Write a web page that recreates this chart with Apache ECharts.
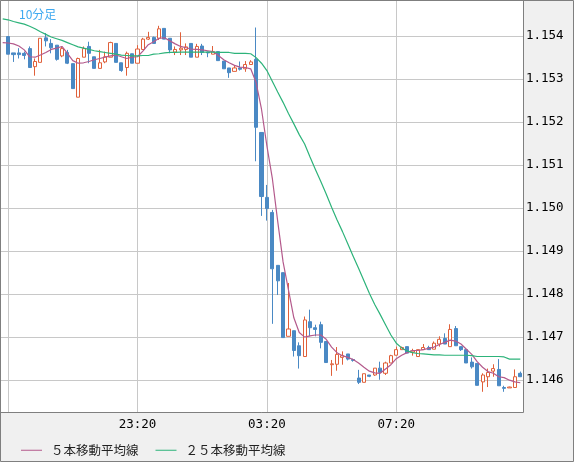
<!DOCTYPE html>
<html><head><meta charset="utf-8">
<script src="https://cdn.jsdelivr.net/npm/echarts@6/dist/echarts.min.js"></script>
<style>html,body{margin:0;padding:0;background:#f0f0f0;} #c{width:574px;height:462px;}</style>
</head><body><div id="c"></div>
<script>
const categories = [
"19:10","19:20","19:30","19:40","19:50",
"20:00","20:10","20:20","20:30","20:40","20:50",
"21:00","21:10","21:20","21:30","21:40","21:50",
"22:00","22:10","22:20","22:30","22:40","22:50",
"23:00","23:10","23:20","23:30","23:40","23:50",
"00:00","00:10","00:20","00:30","00:40","00:50",
"01:00","01:10","01:20","01:30","01:40","01:50",
"02:00","02:10","02:20","02:30","02:40","02:50",
"03:00","03:10","03:20","03:30","03:40","03:50",
"04:00","04:10","04:20","04:30","04:40","04:50",
"05:00","05:10","05:20","05:30","05:40","05:50",
"06:00","06:10","06:20","06:30","06:40","06:50",
"07:00","07:10","07:20","07:30","07:40","07:50",
"08:00","08:10","08:20","08:30","08:40","08:50",
"09:00","09:10","09:20","09:30","09:40","09:50",
"10:00","10:10","10:20","10:30","10:40","10:50",
"11:00","11:10"];

const open = [null,1.15399,1.15361,1.15361,1.15360,1.15371,1.15329,1.15339,1.15396,1.15383,1.15379,
1.15354,1.15362,1.15336,1.15258,1.15351,1.15376,1.15352,1.15325,1.15340,1.15351,
1.15383,1.15338,1.15327,1.15359,1.15337,1.15369,1.15393,1.15397,1.15395,1.15418,
1.15395,1.15363,1.15368,1.15369,1.15383,1.15351,1.15377,1.15363,1.15358,1.15364,
1.15342,1.15326,1.15318,1.15326,1.15324,1.15334,1.15346,1.15176,1.15025,1.14990,
1.14867,1.14850,1.14702,1.14715,1.14680,1.14655,1.14736,1.14722,1.14729,1.14690,
1.14636,1.14637,1.14653,1.14661,1.14648,1.14605,1.14595,1.14612,1.14612,1.14628,
1.14616,1.14640,1.14658,1.14671,1.14678,1.14665,1.14655,1.14671,1.14676,1.14672,
1.14684,1.14697,1.14678,1.14720,1.14678,1.14671,1.14642,1.14639,1.14596,1.14608,
1.14621,1.14625,1.14583,1.14582,1.14583,1.14616];

const close = [null,1.15358,1.15357,1.15357,1.15355,1.15327,1.15341,1.15395,1.15389,1.15373,1.15346,
1.15371,1.15337,1.15278,1.15348,1.15371,1.15360,1.15325,1.15338,1.15352,1.15385,
1.15339,1.15320,1.15360,1.15337,1.15370,1.15393,1.15397,1.15383,1.15417,1.15393,
1.15368,1.15369,1.15372,1.15375,1.15351,1.15376,1.15362,1.15361,1.15364,1.15343,
1.15324,1.15315,1.15326,1.15323,1.15334,1.15340,1.15188,1.15027,1.14999,1.14859,
1.14831,1.14699,1.14719,1.14669,1.14657,1.14740,1.14722,1.14718,1.14688,1.14641,
1.14638,1.14660,1.14657,1.14649,1.14646,1.14595,1.14615,1.14609,1.14628,1.14618,
1.14640,1.14657,1.14671,1.14676,1.14663,1.14668,1.14671,1.14676,1.14671,1.14686,
1.14695,1.14684,1.14718,1.14680,1.14671,1.14640,1.14631,1.14588,1.14612,1.14618,
1.14627,1.14587,1.14581,1.14584,1.14608,1.14608];

const low = [null,1.15358,1.15340,1.15348,1.15346,1.15327,1.15308,1.15339,1.15376,1.15360,1.15343,
1.15351,1.15335,1.15278,1.15258,1.15351,1.15337,1.15325,1.15325,1.15337,1.15351,
1.15339,1.15317,1.15308,1.15337,1.15337,1.15369,1.15391,1.15383,1.15391,1.15393,
1.15360,1.15356,1.15356,1.15356,1.15351,1.15351,1.15356,1.15351,1.15358,1.15343,
1.15324,1.15303,1.15318,1.15320,1.15317,1.15334,1.15109,1.14982,1.14971,1.14731,
1.14798,1.14699,1.14702,1.14655,1.14627,1.14655,1.14702,1.14702,1.14674,1.14641,
1.14610,1.14622,1.14636,1.14646,1.14643,1.14591,1.14595,1.14607,1.14610,1.14601,
1.14612,1.14640,1.14658,1.14671,1.14663,1.14657,1.14655,1.14671,1.14671,1.14672,
1.14678,1.14684,1.14678,1.14680,1.14668,1.14640,1.14627,1.14588,1.14573,1.14584,
1.14608,1.14587,1.14573,1.14582,1.14583,1.14608];

const high = [null,1.15400,1.15361,1.15372,1.15364,1.15376,1.15348,1.15395,1.15407,1.15393,1.15379,
1.15376,1.15368,1.15336,1.15350,1.15376,1.15387,1.15352,1.15368,1.15364,1.15387,
1.15383,1.15338,1.15364,1.15359,1.15379,1.15396,1.15410,1.15399,1.15424,1.15418,
1.15395,1.15376,1.15409,1.15383,1.15383,1.15382,1.15382,1.15364,1.15377,1.15364,
1.15342,1.15326,1.15331,1.15341,1.15342,1.15344,1.15420,1.15176,1.15054,1.14996,
1.14867,1.14850,1.14826,1.14715,1.14688,1.14748,1.14764,1.14729,1.14736,1.14690,
1.14647,1.14677,1.14667,1.14661,1.14650,1.14624,1.14615,1.14612,1.14628,1.14643,
1.14643,1.14659,1.14678,1.14678,1.14678,1.14673,1.14671,1.14684,1.14680,1.14690,
1.14702,1.14709,1.14730,1.14726,1.14678,1.14671,1.14653,1.14639,1.14616,1.14627,
1.14637,1.14649,1.14587,1.14585,1.14625,1.14620];

const ma5 = [1.15385,1.15384,1.15382,1.15377,1.15368,1.15352,1.15351,1.15356,1.15362,1.15369,1.15372,
1.15376,1.15360,1.15343,1.15337,1.15338,1.15341,1.15345,1.15348,1.15351,1.15354,
1.15356,1.15352,1.15348,1.15351,1.15352,1.15365,1.15380,1.15387,1.15395,1.15396,
1.15389,1.15382,1.15376,1.15373,1.15370,1.15369,1.15368,1.15366,1.15364,1.15355,
1.15345,1.15338,1.15332,1.15328,1.15327,1.15324,1.15292,1.15230,1.15145,1.15070,
1.14970,1.14875,1.14810,1.14745,1.14711,1.14700,1.14703,1.14705,1.14705,1.14695,
1.14677,1.14664,1.14657,1.14653,1.14648,1.14640,1.14630,1.14621,1.14617,1.14616,
1.14626,1.14636,1.14650,1.14658,1.14664,1.14669,1.14669,1.14671,1.14674,1.14677,
1.14683,1.14688,1.14693,1.14691,1.14684,1.14672,1.14660,1.14643,1.14630,1.14620,
1.14616,1.14608,1.14606,1.14600,1.14596,1.14594];

const ma25 = [1.15440,1.15438,1.15434,1.15431,1.15428,1.15423,1.15417,1.15410,1.15404,1.15398,1.15394,
1.15390,1.15385,1.15380,1.15375,1.15372,1.15369,1.15366,1.15364,1.15362,1.15360,
1.15358,1.15356,1.15355,1.15354,1.15354,1.15355,1.15355,1.15358,1.15359,1.15361,
1.15362,1.15362,1.15363,1.15363,1.15363,1.15363,1.15363,1.15363,1.15363,1.15362,
1.15362,1.15362,1.15360,1.15360,1.15360,1.15359,1.15350,1.15337,1.15320,1.15295,
1.15270,1.15246,1.15220,1.15196,1.15171,1.15149,1.15119,1.15090,1.15062,1.15033,
1.15002,1.14973,1.14946,1.14917,1.14888,1.14860,1.14831,1.14802,1.14776,1.14753,
1.14729,1.14705,1.14686,1.14675,1.14668,1.14664,1.14662,1.14661,1.14660,1.14659,
1.14659,1.14658,1.14658,1.14658,1.14658,1.14658,1.14657,1.14655,1.14655,1.14655,
1.14655,1.14655,1.14654,1.14649,1.14649,1.14649];

const xTickLabels = ["23:20","03:20","07:20"];
const gridTimes = ["19:20","23:20","03:20","07:20"];
const seriesNames = ["５本移動平均線","２５本移動平均線"];
const yMin = 1.14526, yMax = 1.15484;

const candleData = categories.map((c, i) =>
  open[i] == null ? '-' : [open[i], close[i], low[i], high[i]]);

const chart = echarts.init(document.getElementById('c'), null, {renderer: 'canvas'});
chart.setOption({
  animation: false,
  backgroundColor: '#f0f0f0',
  title: {
    text: '10分足', left: 14, top: 3,
    textStyle: {fontSize: 12, fontWeight: 'normal', color: '#3fa9f0', fontFamily: 'Noto Sans CJK JP'}
  },
  legend: {
    left: 16, top: 439, icon: 'rect', itemWidth: 21, itemHeight: 1, itemGap: 17,
    data: seriesNames,
    textStyle: {fontSize: 12.5, color: '#222', fontFamily: 'Noto Sans CJK JP', padding: [0, 0, 0, 4]}
  },
  grid: {left: 0, right: 51, top: 0, bottom: 50, show: true, backgroundColor: '#ffffff', borderWidth: 0},
  xAxis: {
    type: 'category', data: categories, boundaryGap: true,
    axisLine: {show: false}, axisTick: {show: false}, splitLine: {show: false},
    axisLabel: {
      interval: (i, v) => xTickLabels.includes(v), margin: 6,
      color: '#000', fontFamily: 'DejaVu Sans Mono', fontSize: 12.5
    }
  },
  yAxis: {
    type: 'value', position: 'right', min: yMin, max: yMax, splitNumber: 10,
    minInterval: 0.001, maxInterval: 0.001,
    axisLine: {show: false}, axisTick: {show: false},
    axisLabel: {
      margin: 3, color: '#000', fontFamily: 'DejaVu Sans Mono', fontSize: 12.5,
      formatter: v => Math.abs(v * 1000 - Math.round(v * 1000)) < 1e-6 ? v.toFixed(3) : ''
    },
    splitLine: {lineStyle: {color: '#c8c8c8', width: 1}}
  },
  series: [
    {
      type: 'candlestick', name: 'price', data: candleData, barWidth: 3.6, z: 2,
      itemStyle: {
        color: '#ffffff', color0: '#4a89c4',
        borderColor: '#e0603a', borderColor0: '#4a89c4', borderWidth: 1
      },
      markLine: {
        silent: true, symbol: 'none', z: 1, label: {show: false},
        lineStyle: {color: '#c8c8c8', type: 'solid', width: 1},
        data: gridTimes.map(t => ({xAxis: t}))
      }
    },
    {
      type: 'line', name: seriesNames[0], data: ma5, color: '#b45a8c', z: 3,
      symbol: 'none', showSymbol: false, lineStyle: {width: 1.2, color: '#b45a8c'}
    },
    {
      type: 'line', name: seriesNames[1], data: ma25, color: '#2db37a', z: 3,
      symbol: 'none', showSymbol: false, lineStyle: {width: 1.2, color: '#2db37a'}
    }
  ],
  graphic: [
    {type: 'polyline', z: 100, silent: true,
     shape: {points: [[523.5, 0], [523.5, 412.5], [0, 412.5]]},
     style: {stroke: '#7f7f7f', lineWidth: 1, fill: null}},
    {type: 'rect', z: 100, silent: true,
     shape: {x: 0.5, y: 0.5, width: 573, height: 461},
     style: {stroke: '#7f7f7f', lineWidth: 1, fill: null}}
  ]
});
</script>
</body></html>
